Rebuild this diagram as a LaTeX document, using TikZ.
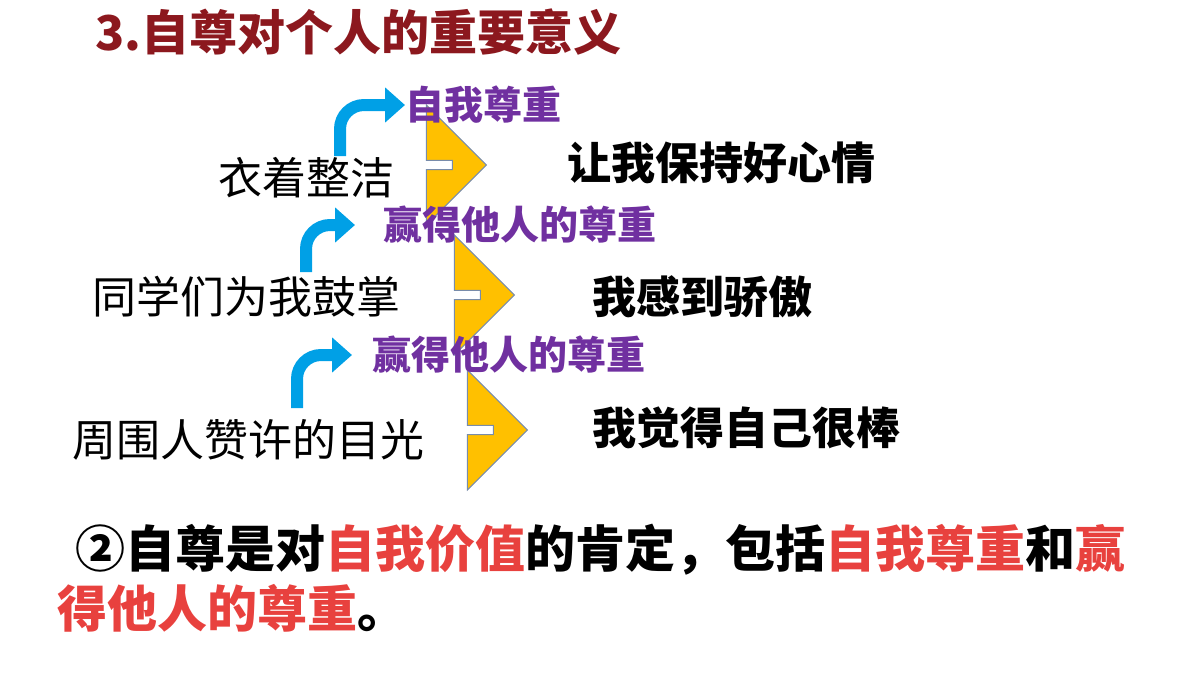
\documentclass[tikz,border=0pt]{standalone}
\usepackage{fontspec}
\setmainfont{Noto Sans CJK SC}
\usetikzlibrary{arrows.meta,shapes.arrows}
\definecolor{titlered}{RGB}{140,24,30}
\definecolor{tagpurple}{RGB}{112,48,160}
\definecolor{bendblue}{RGB}{0,160,230}
\definecolor{hotred}{RGB}{232,65,62}
\definecolor{arrowgold}{RGB}{255,192,0}
\definecolor{rimgray}{RGB}{120,140,170}
\tikzset{
  cause/.style={anchor=west,inner sep=0pt,font=\fontsize{22}{26}\selectfont},
  effect/.style={anchor=west,inner sep=0pt,font=\fontsize{22}{26}\selectfont\bfseries},
  tag/.style={anchor=west,inner sep=0pt,text=tagpurple,font=\fontsize{19.5}{23}\selectfont\bfseries},
  goldarrow/.style={single arrow,draw=rimgray,fill=arrowgold,line width=0.5pt,
    minimum width=60pt,minimum height=17pt,inner sep=0pt,
    single arrow head extend=3pt,single arrow head indent=0pt},
  bluebend/.style={draw=bendblue,line width=6pt,rounded corners=12pt,
    -{Triangle[length=10pt,width=17pt]}}
}
\begin{document}
\begin{tikzpicture}[x=0.5pt,y=-0.5pt]
\useasboundingbox (0,0) rectangle (1200,675);

\node[anchor=west,inner sep=0pt,text=titlered,font=\fontsize{24}{28}\selectfont\bfseries] (title) at (95,32) {3.自尊对个人的重要意义};

% row 1
\node[cause] (dress) at (218,178) {衣着整洁};
\node[goldarrow] (a1) at (467,165) {};
\node[effect] (mood) at (567,163) {让我保持好心情};
\node[tag] (self) at (405,105) {自我尊重};
\coordinate (b1) at (340,156);
\draw[bluebend] (b1) |- (self.west);

% row 2
\node[cause] (clap) at (92,297) {同学们为我鼓掌};
\node[goldarrow] (a2) at (495,295) {};
\node[effect] (proud) at (592,297) {我感到骄傲};
\node[tag] (resp1) at (383,225) {赢得他人的尊重};
\coordinate (b2) at (306,272);
\draw[bluebend] (b2) |- ([xshift=-14pt]resp1.west);

% row 3
\node[cause] (gaze) at (72,440) {周围人赞许的目光};
\node[goldarrow] (a3) at (508,430) {};
\node[effect] (great) at (592,428) {我觉得自己很棒};
\node[tag] (resp2) at (372,355) {赢得他人的尊重};
\coordinate (b3) at (297,408);
\draw[bluebend] (b3) |- ([xshift=-10pt]resp2.west);

% summary
\node[anchor=west,inner sep=0pt,font=\fontsize{25}{30}\selectfont\bfseries] (sum1) at (75,550)
  {②自尊是对\textcolor{hotred}{自我价值}的肯定，包括\textcolor{hotred}{自我尊重}和\textcolor{hotred}{赢}};
\node[anchor=west,inner sep=0pt,font=\fontsize{25}{30}\selectfont\bfseries] (sum2) at (57,608)
  {\textcolor{hotred}{得他人的尊重}。};
\end{tikzpicture}
\end{document}
